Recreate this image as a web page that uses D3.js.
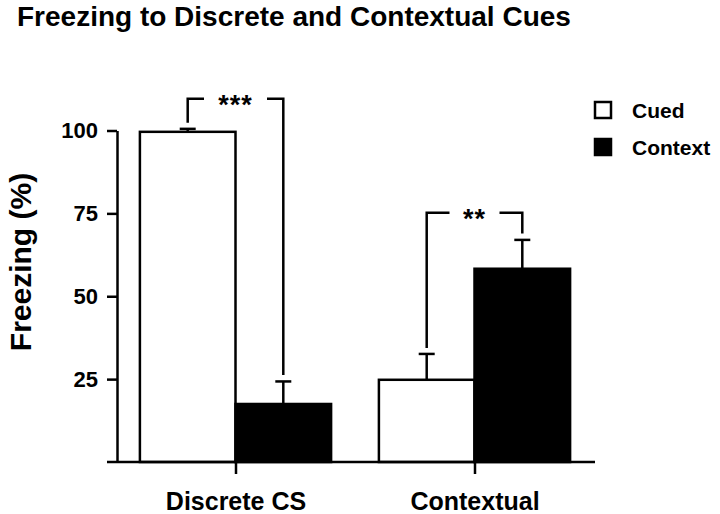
<!DOCTYPE html>
<html>
<head>
<meta charset="utf-8">
<script src="https://cdn.jsdelivr.net/npm/d3@7/dist/d3.min.js"></script>
<style>
  html, body { margin: 0; padding: 0; background: #fff; }
  svg { display: block; font-family: "Liberation Sans", Arial, Helvetica, sans-serif; font-weight: bold; }
</style>
</head>
<body>
<svg id="chart" width="720" height="514"></svg>
<script>
// ---- data ----
const categories = ["Discrete CS", "Contextual"];
const seriesNames = ["Cued", "Context"];
const cuedMeans = [99.6, 24.8];
const cuedSem = [0.9, 7.8];
const contextMeans = [17.5, 58.3];
const contextSem = [6.8, 8.7];
const yTicks = [25, 50, 75, 100];
const sigGroups = ["Discrete CS", "Contextual"];
const sigLabels = ["***", "**"];
const sigLevels = [109.6, 75.2];

const title = "Freezing to Discrete and Contextual Cues";
const yLabel = "Freezing (%)";

// ---- layout ----
const svg = d3.select("#chart");
const y = d3.scaleLinear().domain([0, 100]).range([462, 130.5]);
const x0 = d3.scaleBand().domain(categories).range([116, 594]).paddingInner(0.2).paddingOuter(0.1);
const x1 = d3.scaleBand().domain(seriesNames).range([0, x0.bandwidth()]);
const fills = d3.scaleOrdinal().domain(seriesNames).range(["#ffffff", "#000000"]);
const SW = 2.5;

const rows = [];
categories.forEach((c, i) => {
  rows.push({cat: c, series: "Cued", mean: cuedMeans[i], sem: cuedSem[i]});
  rows.push({cat: c, series: "Context", mean: contextMeans[i], sem: contextSem[i]});
});

// title
svg.append("text").attr("x", 17).attr("y", 25.5).attr("font-size", 28).attr("fill", "#000").text(title);

// bars
svg.append("g").selectAll("rect").data(rows).join("rect")
  .attr("x", d => x0(d.cat) + x1(d.series))
  .attr("y", d => y(d.mean))
  .attr("width", x1.bandwidth())
  .attr("height", d => y(0) - y(d.mean))
  .attr("fill", d => fills(d.series))
  .attr("stroke", "#000").attr("stroke-width", SW);

// error bars (upper only)
const cx = d => x0(d.cat) + x1(d.series) + x1.bandwidth() / 2;
const eb = svg.append("g").attr("stroke", "#000").attr("stroke-width", SW);
eb.selectAll("line.v").data(rows).join("line").attr("class", "v")
  .attr("x1", cx).attr("x2", cx)
  .attr("y1", d => y(d.mean)).attr("y2", d => y(d.mean + d.sem));
eb.selectAll("line.c").data(rows).join("line").attr("class", "c")
  .attr("x1", d => cx(d) - 8).attr("x2", d => cx(d) + 8)
  .attr("y1", d => y(d.mean + d.sem)).attr("y2", d => y(d.mean + d.sem));

// axes
const yAxis = d3.axisLeft(y).tickValues(yTicks).tickSize(10).tickSizeOuter(0).tickPadding(9);
const gy = svg.append("g").attr("transform", "translate(117,0)").call(yAxis);
gy.selectAll("path, line").attr("stroke", "#000").attr("stroke-width", SW);
gy.selectAll("text").attr("font-size", 22).attr("font-family", null).attr("fill", "#000");

svg.append("line").attr("x1", 107).attr("x2", 595).attr("y1", y(0)).attr("y2", y(0))
  .attr("stroke", "#000").attr("stroke-width", SW);
const xc = d3.scalePoint().domain(categories)
  .range([x0(categories[0]) + x0.bandwidth() / 2, x0(categories[1]) + x0.bandwidth() / 2]);
const xAxis = d3.axisBottom(xc).tickSize(12).tickSizeOuter(0).tickPadding(18);
const gx = svg.append("g").attr("transform", `translate(0,${y(0)})`).call(xAxis);
gx.select("path.domain").remove();
gx.selectAll("line").attr("stroke", "#000").attr("stroke-width", SW);
gx.selectAll("text").attr("font-size", 25).attr("font-family", null).attr("fill", "#000");

// y label
svg.append("text").attr("transform", "translate(31,262) rotate(-90)")
  .attr("text-anchor", "middle").attr("font-size", 30).attr("fill", "#000").text(yLabel);

// significance brackets
const sig = svg.append("g");
sigGroups.forEach((g, i) => {
  const a = rows.find(r => r.cat === g && r.series === "Cued");
  const b = rows.find(r => r.cat === g && r.series === "Context");
  const xa = cx(a), xb = cx(b), yt = y(sigLevels[i]);
  const ya = y(a.mean + a.sem) - 6, yb = y(b.mean + b.sem) - 6.5;
  const mid = (xa + xb) / 2;
  const half = sigLabels[i].length * 6.5 + 12;
  sig.append("path")
    .attr("d", `M${xa},${ya}V${yt}H${mid - half}M${mid + half},${yt}H${xb}V${yb}`)
    .attr("fill", "none").attr("stroke", "#000").attr("stroke-width", SW);
  sig.append("text").attr("x", mid).attr("y", yt + 15).attr("text-anchor", "middle")
    .attr("font-size", 27).attr("letter-spacing", 1).attr("fill", "#000").text(sigLabels[i]);
});

// legend
const lg = svg.append("g");
seriesNames.forEach((s, i) => {
  lg.append("rect").attr("x", 595).attr("y", 102 + i * 37).attr("width", 16).attr("height", 16)
    .attr("fill", fills(s)).attr("stroke", "#000").attr("stroke-width", SW);
  lg.append("text").attr("x", 632).attr("y", 118 + i * 36.5).attr("font-size", 21).attr("fill", "#000").text(s);
});
</script>
</body>
</html>
